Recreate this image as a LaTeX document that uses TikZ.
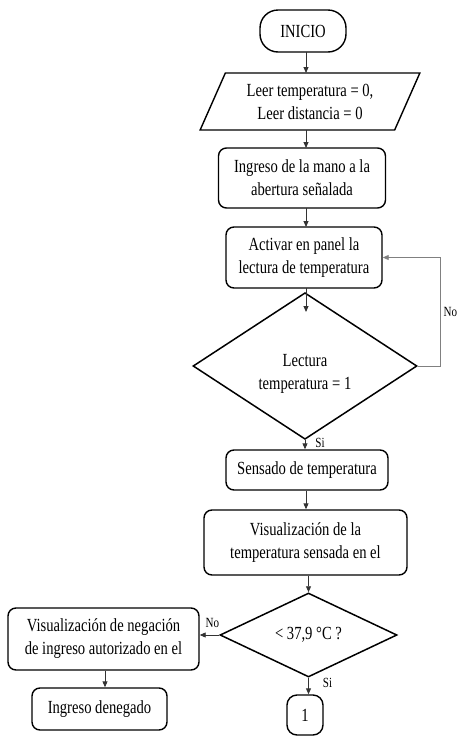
\documentclass[tikz,border=0pt]{standalone}
\usepackage{fontspec}
\setmainfont{Liberation Serif}[FakeStretch=0.79]
\usetikzlibrary{arrows.meta}
\usetikzlibrary{shapes.geometric}

\begin{document}
\begin{tikzpicture}[x=1pt,y=-1pt,
        txt/.style={font=\fontsize{18.5}{23}\selectfont, align=center, inner sep=0pt},
        proc/.style={txt, draw, line width=1.4pt, rounded corners=8pt},
        term/.style={proc, rounded corners=18pt},
        io/.style={txt, draw, line width=1.4pt, trapezium, trapezium stretches=true,
            trapezium left angle=62, trapezium right angle=118},
        decision/.style={txt, draw, line width=1.5pt, diamond},
        lbl/.style={font=\fontsize{14}{16}\selectfont, text=black, inner sep=2pt},
        arr/.style={line width=0.9pt, black!80, -{Triangle[width=5pt,length=6pt]}},
        back/.style={arr, black!50}]
    \useasboundingbox (0,0) rectangle (459,737);

    \node[term, minimum width=86, minimum height=42] (inicio) at (303,31) {INICIO};
    \node[io, minimum width=220, minimum height=57] (leer) at (310,101.5)
        {Leer temperatura = 0,\\ Leer distancia = 0};
    \node[proc, minimum width=167, minimum height=60] (mano) at (302,178)
        {Ingreso de la mano a la\\ abertura señalada};
    \node[proc, minimum width=156, minimum height=61] (activar) at (304,257.5)
        {Activar en panel la\\ lectura de temperatura};
    \node[decision, minimum width=224, minimum height=108] (lectura) at (305,366)
        {\\[4pt]Lectura\\ temperatura = 1};
    \node[proc, minimum width=162, minimum height=40] (sensado) at (307,470)
        {Sensado de temperatura};
    \node[proc, minimum width=203, minimum height=65] (visual) at (305.5,542.5)
        {Visualización de la\\ temperatura sensada en el};
    \node[decision, minimum width=177, minimum height=84] (umbral) at (308.5,635)
        {< 37,9 °C ?};
    \node[proc, minimum width=191, minimum height=62] (negacion) at (103.5,639)
        {Visualización de negación\\ de ingreso autorizado en el};
    \node[proc, minimum width=135, minimum height=42] (denegado) at (99.5,709)
        {Ingreso denegado};
    \node[proc, rounded corners=10pt, minimum width=36, minimum height=40] (uno) at (305,715)
        {1};

    \draw[arr] (306,52) -- (306,73);
    \draw[arr] (306,130) -- (306,148);
    \draw[arr] (306,208) -- (306,227);
    \draw[arr] (306,288) -- (306,312);
    \draw[arr] (lectura.south) -- node[lbl, pos=0.3, right, xshift=8pt] {Si} (lectura.south |- sensado.north);
    \draw[back] (lectura.east) -- ++(23,0) |- node[lbl, pos=0.25, right, xshift=0.5pt] {No} (activar.east);
    \draw[arr] (sensado.south -| 306,0) -- (visual.north -| 306,0);
    \draw[arr] (visual.south -| 308.5,0) -- (umbral.north);
    \draw[arr] (umbral.west) -- node[lbl, above, yshift=5pt, xshift=3pt] {No} (umbral.west -| negacion.east);
    \draw[arr] (negacion.south -| 105,0) -- (denegado.north -| 105,0);
    \draw[arr] (umbral.south) -- node[lbl, pos=0.3, right, xshift=12pt] {Si} (umbral.south |- uno.north);
\end{tikzpicture}
\end{document}
